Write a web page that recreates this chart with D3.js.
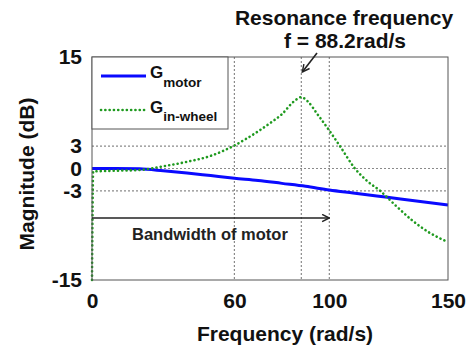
<!DOCTYPE html>
<html>
<head>
<meta charset="utf-8">
<script src="https://cdn.jsdelivr.net/npm/d3@7"></script>
<style>
  body { margin: 0; background: #fff; }
  svg { display: block; font-family: "Liberation Sans", Arial, sans-serif; font-weight: bold; }
</style>
</head>
<body>
<div id="chart"></div>
<script>
// frequency response data
var motorFreq = [0, 10, 20, 30, 40, 50, 60, 70, 80, 90, 100, 110, 120, 130, 140, 150]
var motorMag  = [0, 0, -0.05, -0.3, -0.6, -0.95, -1.3, -1.6, -2.0, -2.4, -2.9, -3.3, -3.7, -4.1, -4.5, -4.9]

var wheelFreq = [0, 0.5, 10, 20, 30, 40, 50, 60, 65, 70, 75, 80, 85, 88.2, 91, 95, 100, 104.5, 110.8, 116, 121.4, 128, 135, 142, 150]
var wheelMag  = [-15, -0.4, -0.3, -0.2, 0.3, 0.9, 1.7, 3.1, 4.0, 5.0, 6.1, 7.3, 9.0, 9.6, 9.0, 7.3, 5.1, 3.0, 0, -1.7, -3.0, -5.0, -7.0, -8.6, -9.9]

var xTicks = [0, 60, 100, 150]
var yTicks = [-15, -3, 0, 3, 15]
var gridX = [60, 88.2, 100]
var gridY = [-3, 0, 3]

var resonance = 88.2
var bandwidth = 100

var width = 473, height = 352
var margin = {top: 57, right: 25, bottom: 72, left: 92}

var svg = d3.select("#chart").append("svg")
  .attr("width", width)
  .attr("height", height)

var defs = svg.append("defs")
defs.append("marker")
  .attr("id", "arrow")
  .attr("viewBox", "0 0 10 10")
  .attr("refX", 9).attr("refY", 5)
  .attr("markerWidth", 9).attr("markerHeight", 9)
  .attr("markerUnits", "userSpaceOnUse")
  .attr("orient", "auto")
  .append("path")
  .attr("d", "M1,1 L9,5 L1,9")
  .attr("fill", "none")
  .attr("stroke", "#222")
  .attr("stroke-width", 1.6)

var x = d3.scaleLinear()
  .domain([0, 150])
  .range([margin.left, width - margin.right])

var y = d3.scaleLinear()
  .domain([-15, 15])
  .range([height - margin.bottom, margin.top])

// grid
svg.append("g").selectAll("line")
  .data(gridX)
  .enter().append("line")
  .attr("x1", d => x(d)).attr("x2", d => x(d))
  .attr("y1", y(15)).attr("y2", y(-15))
  .attr("stroke", "#8a8a8a")
  .attr("stroke-width", 1.2)
  .attr("stroke-dasharray", "2,2")

svg.append("g").selectAll("line")
  .data(gridY)
  .enter().append("line")
  .attr("x1", x(0)).attr("x2", x(150))
  .attr("y1", d => y(d)).attr("y2", d => y(d))
  .attr("stroke", "#8a8a8a")
  .attr("stroke-width", 1.2)
  .attr("stroke-dasharray", "2,2")

// axes (plain hyphen for negatives, like the original)
var fmt = d => String(d)

var xAxis = svg.append("g")
  .attr("transform", "translate(0," + y(-15) + ")")
  .call(d3.axisBottom(x).tickValues(xTicks).tickFormat(fmt).tickSize(0).tickPadding(13))
xAxis.select(".domain").remove()
xAxis.selectAll("text")
  .attr("fill", "#111")
  .style("font-size", "21px")
  .style("font-family", "Liberation Sans, Arial, sans-serif")
  .style("font-weight", "bold")

var yAxis = svg.append("g")
  .attr("transform", "translate(" + x(0) + ",0)")
  .call(d3.axisLeft(y).tickValues(yTicks).tickFormat(fmt).tickSize(0).tickPadding(10))
yAxis.select(".domain").remove()
yAxis.selectAll("text")
  .attr("fill", "#111")
  .style("font-size", "21px")
  .style("font-family", "Liberation Sans, Arial, sans-serif")
  .style("font-weight", "bold")

// curves
var line = d3.line()
  .x(d => x(d[0]))
  .y(d => y(d[1]))
  .curve(d3.curveMonotoneX)

svg.append("path")
  .datum(d3.zip(motorFreq, motorMag))
  .attr("d", line)
  .attr("fill", "none")
  .attr("stroke", "#0a0aff")
  .attr("stroke-width", 3)

svg.append("path")
  .datum(d3.zip(wheelFreq, wheelMag))
  .attr("d", line)
  .attr("fill", "none")
  .attr("stroke", "#1f9a1f")
  .attr("stroke-width", 2.6)
  .attr("stroke-linecap", "round")
  .attr("stroke-dasharray", "0.1,4.2")

// plot box
svg.append("rect")
  .attr("x", x(0)).attr("y", y(15))
  .attr("width", x(150) - x(0))
  .attr("height", y(-15) - y(15))
  .attr("fill", "none")
  .attr("stroke", "#555")
  .attr("stroke-width", 1)

// legend
var legend = svg.append("g")
legend.append("rect")
  .attr("x", x(0)).attr("y", y(15))
  .attr("width", 136).attr("height", 72)
  .attr("fill", "#fff")
  .attr("stroke", "#555")
  .attr("stroke-width", 1)

legend.append("line")
  .attr("x1", 101).attr("x2", 146)
  .attr("y1", 76).attr("y2", 76)
  .attr("stroke", "#0a0aff")
  .attr("stroke-width", 3)

legend.append("line")
  .attr("x1", 101).attr("x2", 146)
  .attr("y1", 110).attr("y2", 110)
  .attr("stroke", "#1f9a1f")
  .attr("stroke-width", 2.6)
  .attr("stroke-linecap", "round")
  .attr("stroke-dasharray", "0.1,4.2")

var leg1 = legend.append("text").attr("x", 150).attr("y", 78).attr("fill", "#111")
leg1.append("tspan").style("font-size", "17px").text("G")
leg1.append("tspan").attr("dy", 9).style("font-size", "13.5px").text("motor")

var leg2 = legend.append("text").attr("x", 150).attr("y", 113).attr("fill", "#111")
leg2.append("tspan").style("font-size", "17px").text("G")
leg2.append("tspan").attr("dy", 8).style("font-size", "13.5px").text("in-wheel")

// annotations
svg.append("text")
  .attr("x", 344).attr("y", 25)
  .attr("text-anchor", "middle")
  .attr("fill", "#111")
  .style("font-size", "21px")
  .text("Resonance frequency")

svg.append("text")
  .attr("x", 345).attr("y", 48)
  .attr("text-anchor", "middle")
  .attr("fill", "#111")
  .style("font-size", "21px")
  .text("f = " + resonance + "rad/s")

svg.append("line")
  .attr("x1", 317).attr("y1", 53)
  .attr("x2", x(resonance) + 1).attr("y2", 72)
  .attr("stroke", "#222")
  .attr("stroke-width", 1.6)
  .attr("marker-end", "url(#arrow)")

svg.append("line")
  .attr("x1", x(0)).attr("y1", 218)
  .attr("x2", x(bandwidth)).attr("y2", 218)
  .attr("stroke", "#222")
  .attr("stroke-width", 1.6)
  .attr("marker-end", "url(#arrow)")

svg.append("text")
  .attr("x", 132).attr("y", 240)
  .attr("fill", "#222")
  .style("font-size", "16.5px")
  .text("Bandwidth of motor")

// axis titles
svg.append("text")
  .attr("x", 285).attr("y", 341)
  .attr("text-anchor", "middle")
  .attr("fill", "#111")
  .style("font-size", "21px")
  .text("Frequency (rad/s)")

svg.append("text")
  .attr("transform", "translate(34,174) rotate(-90)")
  .attr("text-anchor", "middle")
  .attr("fill", "#111")
  .style("font-size", "21px")
  .text("Magnitude (dB)")
</script>
</body>
</html>
